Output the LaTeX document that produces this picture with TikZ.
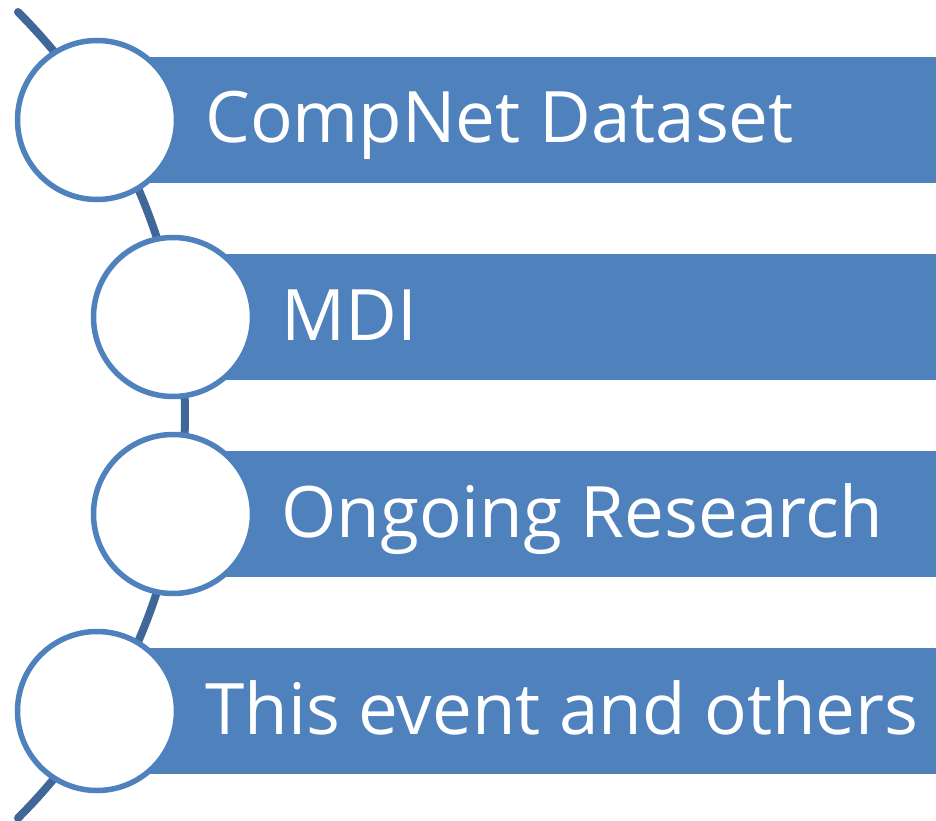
\documentclass[tikz,border=0pt]{standalone}
\usepackage{fontspec}
\setmainfont{Open Sans}
\usetikzlibrary{positioning}
\definecolor{barblue}{HTML}{4F81BD}
\definecolor{spineblue}{HTML}{3F6797}
\tikzset{spine/.style={line width=8pt,spineblue,line cap=round},
  bar/.style={fill=barblue,draw=none,minimum height=126pt,inner sep=0pt,anchor=west},
  dot/.style={circle,draw=barblue,line width=5.5pt,fill=white,minimum size=159pt,inner sep=0pt},
  lbl/.style={anchor=base west,text=white,font=\fontsize{71}{80}\selectfont,inner sep=0pt}}
\begin{document}
\begin{tikzpicture}[x=1pt,y=-1pt]
\useasboundingbox (0,0) rectangle (936,821);
% the curved spine behind the circles
\coordinate (spinetop) at (18,12);
\draw[spine] (spinetop) arc[start angle=-45,end angle=45,radius=570];
\foreach \cx/\cy/\name/\txt in {97/120/a/CompNet Dataset,173/317/b/MDI,173/514/c/Ongoing Research,97/711/d/This event and others}{
  \pgfmathsetmacro{\w}{936-\cx}
  \node[bar,minimum width=\w pt] (bar\name) at (\cx,\cy) {};
  \node[dot] (dot\name) at (\cx,\cy) {};
  \node[lbl] (lbl\name) at (\cx+108,\cy+23) {\txt};
}
\end{tikzpicture}
\end{document}
